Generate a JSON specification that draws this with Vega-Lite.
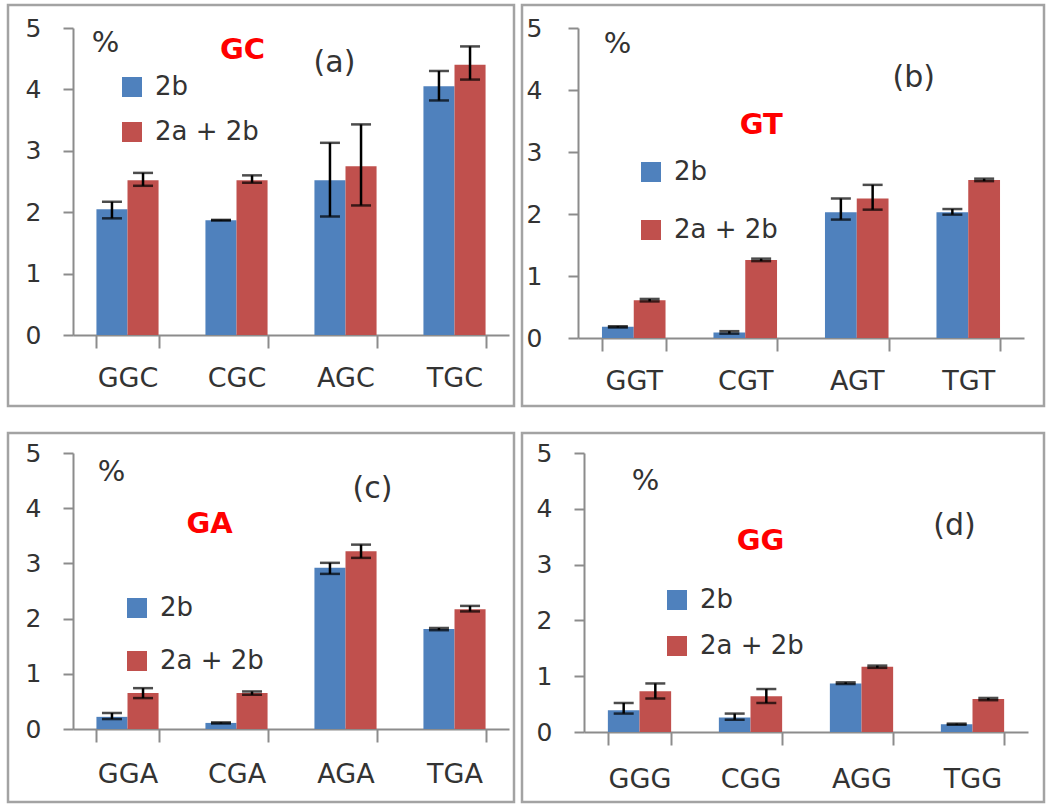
{
  "$schema": "https://vega.github.io/schema/vega-lite/v6.json",
  "padding": {"left": 6, "top": 3, "right": 0, "bottom": 0},
  "background": "white",
  "datasets": {
    "a": [
      {"cat": "GGC", "series": "2b", "value": 2.05, "lo": 1.9, "hi": 2.17},
      {"cat": "GGC", "series": "2a + 2b", "value": 2.52, "lo": 2.43, "hi": 2.64},
      {"cat": "CGC", "series": "2b", "value": 1.87, "lo": 1.865, "hi": 1.875},
      {"cat": "CGC", "series": "2a + 2b", "value": 2.52, "lo": 2.48, "hi": 2.6},
      {"cat": "AGC", "series": "2b", "value": 2.52, "lo": 1.93, "hi": 3.13},
      {"cat": "AGC", "series": "2a + 2b", "value": 2.75, "lo": 2.11, "hi": 3.43},
      {"cat": "TGC", "series": "2b", "value": 4.05, "lo": 3.82, "hi": 4.3},
      {"cat": "TGC", "series": "2a + 2b", "value": 4.4, "lo": 4.16, "hi": 4.7}
    ],
    "b": [
      {"cat": "GGT", "series": "2b", "value": 0.18, "lo": 0.17, "hi": 0.19},
      {"cat": "GGT", "series": "2a + 2b", "value": 0.61, "lo": 0.59, "hi": 0.63},
      {"cat": "CGT", "series": "2b", "value": 0.09, "lo": 0.07, "hi": 0.11},
      {"cat": "CGT", "series": "2a + 2b", "value": 1.26, "lo": 1.24, "hi": 1.28},
      {"cat": "AGT", "series": "2b", "value": 2.03, "lo": 1.91, "hi": 2.25},
      {"cat": "AGT", "series": "2a + 2b", "value": 2.25, "lo": 2.07, "hi": 2.47},
      {"cat": "TGT", "series": "2b", "value": 2.03, "lo": 1.99, "hi": 2.08},
      {"cat": "TGT", "series": "2a + 2b", "value": 2.55, "lo": 2.53, "hi": 2.57}
    ],
    "c": [
      {"cat": "GGA", "series": "2b", "value": 0.22, "lo": 0.18, "hi": 0.29},
      {"cat": "GGA", "series": "2a + 2b", "value": 0.65, "lo": 0.56, "hi": 0.74},
      {"cat": "CGA", "series": "2b", "value": 0.11, "lo": 0.1, "hi": 0.12},
      {"cat": "CGA", "series": "2a + 2b", "value": 0.65, "lo": 0.62, "hi": 0.68},
      {"cat": "AGA", "series": "2b", "value": 2.92, "lo": 2.81, "hi": 3.01},
      {"cat": "AGA", "series": "2a + 2b", "value": 3.22, "lo": 3.1, "hi": 3.34},
      {"cat": "TGA", "series": "2b", "value": 1.81, "lo": 1.79, "hi": 1.83},
      {"cat": "TGA", "series": "2a + 2b", "value": 2.17, "lo": 2.13, "hi": 2.23}
    ],
    "d": [
      {"cat": "GGG", "series": "2b", "value": 0.39, "lo": 0.33, "hi": 0.52},
      {"cat": "GGG", "series": "2a + 2b", "value": 0.73, "lo": 0.6, "hi": 0.87},
      {"cat": "CGG", "series": "2b", "value": 0.26, "lo": 0.22, "hi": 0.33},
      {"cat": "CGG", "series": "2a + 2b", "value": 0.64, "lo": 0.52, "hi": 0.77},
      {"cat": "AGG", "series": "2b", "value": 0.87, "lo": 0.86, "hi": 0.89},
      {"cat": "AGG", "series": "2a + 2b", "value": 1.17, "lo": 1.15, "hi": 1.19},
      {"cat": "TGG", "series": "2b", "value": 0.14, "lo": 0.13, "hi": 0.15},
      {"cat": "TGG", "series": "2a + 2b", "value": 0.59, "lo": 0.57, "hi": 0.61}
    ],
    "one": [{"k": 1}]
  },
  "columns": 2,
  "bounds": "flush",
  "spacing": {"row": 27, "column": 8},
  "resolve": {"scale": {"color": "independent", "x": "independent", "y": "independent", "xOffset": "independent"}, "legend": {"color": "independent"}},
  "concat": [
    {
      "width": 506, "height": 401,
      "encoding": {
        "x": {"field": "cat", "type": "nominal", "scale": {"domain": ["GGC", "CGC", "AGC", "TGC"], "range": [65, 501], "paddingInner": 0.43, "paddingOuter": 0.215},
              "axis": {"title": null, "offset": -71, "labelAngle": 0, "tickBand": "extent", "tickSize": 13, "labelPadding": 17, "labelFontSize": 27}}
      },
      "layer": [
        {"data": {"name": "a"}, "mark": {"type": "bar"},
         "encoding": {
           "xOffset": {"field": "series", "type": "nominal", "scale": {"domain": ["2b", "2a + 2b"]}},
           "y": {"field": "value", "type": "quantitative", "title": "%", "scale": {"domain": [0, 5], "range": [330, 23], "nice": false, "zero": true},
                 "axis": {"offset": -65, "values": [0, 1, 2, 3, 4, 5], "format": "d", "tickSize": 10, "labelPadding": 22, "titleAngle": 0, "titleX": 32, "titleY": 37, "titleAlign": "center", "titleBaseline": "middle"}},
           "color": {"field": "series", "type": "nominal", "scale": {"domain": ["2b", "2a + 2b"], "range": ["#4F81BD", "#C0504D"]},
                     "legend": {"orient": "none", "legendX": 111, "legendY": 69, "rowPadding": 19}}
         }},
        {"data": {"name": "a"}, "mark": {"type": "rule", "color": "black", "strokeWidth": 2.5},
         "encoding": {"xOffset": {"field": "series", "type": "nominal"}, "y": {"field": "lo", "type": "quantitative", "title": "%"}, "y2": {"field": "hi"}}},
        {"data": {"name": "a"}, "mark": {"type": "tick", "color": "black", "thickness": 2.5, "size": 20, "orient": "horizontal"},
         "encoding": {"xOffset": {"field": "series", "type": "nominal"}, "y": {"field": "lo", "type": "quantitative", "title": "%"}}},
        {"data": {"name": "a"}, "mark": {"type": "tick", "color": "black", "thickness": 2.5, "size": 20, "orient": "horizontal"},
         "encoding": {"xOffset": {"field": "series", "type": "nominal"}, "y": {"field": "hi", "type": "quantitative", "title": "%"}}},
        {"data": {"name": "one"}, "mark": {"type": "text", "text": "GC", "color": "#FF0000", "fontWeight": "bold", "fontSize": 29, "dx": 6, "baseline": "middle"},
         "encoding": {"x": {"datum": "CGC", "type": "nominal"}, "y": {"datum": 4.64, "type": "quantitative", "title": "%"}}},
        {"data": {"name": "one"}, "mark": {"type": "text", "text": "(a)", "color": "#333333", "fontSize": 30, "dx": -11, "baseline": "middle"},
         "encoding": {"x": {"datum": "AGC", "type": "nominal"}, "y": {"datum": 4.43, "type": "quantitative", "title": "%"}}}
      ]
    },
    {
      "width": 522, "height": 401,
      "encoding": {
        "x": {"field": "cat", "type": "nominal", "scale": {"domain": ["GGT", "CGT", "AGT", "TGT"], "range": [56, 502], "paddingInner": 0.43, "paddingOuter": 0.215},
              "axis": {"title": null, "offset": -68, "labelAngle": 0, "tickBand": "extent", "tickSize": 13, "labelPadding": 17, "labelFontSize": 27}}
      },
      "layer": [
        {"data": {"name": "b"}, "mark": {"type": "bar"},
         "encoding": {
           "xOffset": {"field": "series", "type": "nominal", "scale": {"domain": ["2b", "2a + 2b"]}},
           "y": {"field": "value", "type": "quantitative", "title": "%", "scale": {"domain": [0, 5], "range": [333, 23], "nice": false, "zero": true},
                 "axis": {"offset": -56, "values": [0, 1, 2, 3, 4, 5], "format": "d", "tickSize": 10, "labelPadding": 26, "titleAngle": 0, "titleX": 39, "titleY": 38, "titleAlign": "center", "titleBaseline": "middle"}},
           "color": {"field": "series", "type": "nominal", "scale": {"domain": ["2b", "2a + 2b"], "range": ["#4F81BD", "#C0504D"]},
                     "legend": {"orient": "none", "legendX": 116, "legendY": 154, "rowPadding": 32}}
         }},
        {"data": {"name": "b"}, "mark": {"type": "rule", "color": "black", "strokeWidth": 2.5},
         "encoding": {"xOffset": {"field": "series", "type": "nominal"}, "y": {"field": "lo", "type": "quantitative", "title": "%"}, "y2": {"field": "hi"}}},
        {"data": {"name": "b"}, "mark": {"type": "tick", "color": "black", "thickness": 2.5, "size": 20, "orient": "horizontal"},
         "encoding": {"xOffset": {"field": "series", "type": "nominal"}, "y": {"field": "lo", "type": "quantitative", "title": "%"}}},
        {"data": {"name": "b"}, "mark": {"type": "tick", "color": "black", "thickness": 2.5, "size": 20, "orient": "horizontal"},
         "encoding": {"xOffset": {"field": "series", "type": "nominal"}, "y": {"field": "hi", "type": "quantitative", "title": "%"}}},
        {"data": {"name": "one"}, "mark": {"type": "text", "text": "GT", "color": "#FF0000", "fontWeight": "bold", "fontSize": 29, "dx": 16, "baseline": "middle"},
         "encoding": {"x": {"datum": "CGT", "type": "nominal"}, "y": {"datum": 3.44, "type": "quantitative", "title": "%"}}},
        {"data": {"name": "one"}, "mark": {"type": "text", "text": "(b)", "color": "#333333", "fontSize": 30, "dx": 57, "baseline": "middle"},
         "encoding": {"x": {"datum": "AGT", "type": "nominal"}, "y": {"datum": 4.19, "type": "quantitative", "title": "%"}}}
      ]
    },
    {
      "width": 506, "height": 369,
      "encoding": {
        "x": {"field": "cat", "type": "nominal", "scale": {"domain": ["GGA", "CGA", "AGA", "TGA"], "range": [65, 501], "paddingInner": 0.43, "paddingOuter": 0.215},
              "axis": {"title": null, "offset": -73, "labelAngle": 0, "tickBand": "extent", "tickSize": 13, "labelPadding": 19, "labelFontSize": 27}}
      },
      "layer": [
        {"data": {"name": "c"}, "mark": {"type": "bar"},
         "encoding": {
           "xOffset": {"field": "series", "type": "nominal", "scale": {"domain": ["2b", "2a + 2b"]}},
           "y": {"field": "value", "type": "quantitative", "title": "%", "scale": {"domain": [0, 5], "range": [296, 20], "nice": false, "zero": true},
                 "axis": {"offset": -65, "values": [0, 1, 2, 3, 4, 5], "format": "d", "tickSize": 10, "labelPadding": 22, "titleAngle": 0, "titleX": 38, "titleY": 38, "titleAlign": "center", "titleBaseline": "middle"}},
           "color": {"field": "series", "type": "nominal", "scale": {"domain": ["2b", "2a + 2b"], "range": ["#4F81BD", "#C0504D"]},
                     "legend": {"orient": "none", "legendX": 116, "legendY": 162, "rowPadding": 27}}
         }},
        {"data": {"name": "c"}, "mark": {"type": "rule", "color": "black", "strokeWidth": 2.5},
         "encoding": {"xOffset": {"field": "series", "type": "nominal"}, "y": {"field": "lo", "type": "quantitative", "title": "%"}, "y2": {"field": "hi"}}},
        {"data": {"name": "c"}, "mark": {"type": "tick", "color": "black", "thickness": 2.5, "size": 20, "orient": "horizontal"},
         "encoding": {"xOffset": {"field": "series", "type": "nominal"}, "y": {"field": "lo", "type": "quantitative", "title": "%"}}},
        {"data": {"name": "c"}, "mark": {"type": "tick", "color": "black", "thickness": 2.5, "size": 20, "orient": "horizontal"},
         "encoding": {"xOffset": {"field": "series", "type": "nominal"}, "y": {"field": "hi", "type": "quantitative", "title": "%"}}},
        {"data": {"name": "one"}, "mark": {"type": "text", "text": "GA", "color": "#FF0000", "fontWeight": "bold", "fontSize": 29, "dx": -27, "baseline": "middle"},
         "encoding": {"x": {"datum": "CGA", "type": "nominal"}, "y": {"datum": 3.71, "type": "quantitative", "title": "%"}}},
        {"data": {"name": "one"}, "mark": {"type": "text", "text": "(c)", "color": "#333333", "fontSize": 30, "dx": 27, "baseline": "middle"},
         "encoding": {"x": {"datum": "AGA", "type": "nominal"}, "y": {"datum": 4.35, "type": "quantitative", "title": "%"}}}
      ]
    },
    {
      "width": 522, "height": 369,
      "encoding": {
        "x": {"field": "cat", "type": "nominal", "scale": {"domain": ["GGG", "CGG", "AGG", "TGG"], "range": [62, 506], "paddingInner": 0.43, "paddingOuter": 0.215},
              "axis": {"title": null, "offset": -70, "labelAngle": 0, "tickBand": "extent", "tickSize": 13, "labelPadding": 21, "labelFontSize": 27}}
      },
      "layer": [
        {"data": {"name": "d"}, "mark": {"type": "bar"},
         "encoding": {
           "xOffset": {"field": "series", "type": "nominal", "scale": {"domain": ["2b", "2a + 2b"]}},
           "y": {"field": "value", "type": "quantitative", "title": "%", "scale": {"domain": [0, 5], "range": [299, 20], "nice": false, "zero": true},
                 "axis": {"offset": -62, "values": [0, 1, 2, 3, 4, 5], "format": "d", "tickSize": 10, "labelPadding": 22, "titleAngle": 0, "titleX": 61, "titleY": 47, "titleAlign": "center", "titleBaseline": "middle"}},
           "color": {"field": "series", "type": "nominal", "scale": {"domain": ["2b", "2a + 2b"], "range": ["#4F81BD", "#C0504D"]},
                     "legend": {"orient": "none", "legendX": 142, "legendY": 154, "rowPadding": 20}}
         }},
        {"data": {"name": "d"}, "mark": {"type": "rule", "color": "black", "strokeWidth": 2.5},
         "encoding": {"xOffset": {"field": "series", "type": "nominal"}, "y": {"field": "lo", "type": "quantitative", "title": "%"}, "y2": {"field": "hi"}}},
        {"data": {"name": "d"}, "mark": {"type": "tick", "color": "black", "thickness": 2.5, "size": 20, "orient": "horizontal"},
         "encoding": {"xOffset": {"field": "series", "type": "nominal"}, "y": {"field": "lo", "type": "quantitative", "title": "%"}}},
        {"data": {"name": "d"}, "mark": {"type": "tick", "color": "black", "thickness": 2.5, "size": 20, "orient": "horizontal"},
         "encoding": {"xOffset": {"field": "series", "type": "nominal"}, "y": {"field": "hi", "type": "quantitative", "title": "%"}}},
        {"data": {"name": "one"}, "mark": {"type": "text", "text": "GG", "color": "#FF0000", "fontWeight": "bold", "fontSize": 29, "dx": 10, "baseline": "middle"},
         "encoding": {"x": {"datum": "CGG", "type": "nominal"}, "y": {"datum": 3.42, "type": "quantitative", "title": "%"}}},
        {"data": {"name": "one"}, "mark": {"type": "text", "text": "(d)", "color": "#333333", "fontSize": 30, "dx": -18, "baseline": "middle"},
         "encoding": {"x": {"datum": "TGG", "type": "nominal"}, "y": {"datum": 3.69, "type": "quantitative", "title": "%"}}}
      ]
    }
  ],
  "config": {
    "font": "DejaVu Sans",
    "view": {"stroke": "#a3a3a3", "strokeWidth": 2.5},
    "axis": {"labelFont": "DejaVu Sans", "labelFontSize": 25, "labelColor": "#333333", "domainColor": "#8c8c8c", "tickColor": "#8c8c8c", "domainWidth": 2, "tickWidth": 2, "grid": false,
             "titleFont": "DejaVu Sans", "titleFontSize": 29, "titleFontWeight": "normal", "titleColor": "#333333"},
    "legend": {"title": null, "symbolType": "square", "symbolSize": 400, "symbolStrokeWidth": 0, "labelFont": "DejaVu Sans", "labelFontSize": 26, "labelColor": "#333333", "labelOffset": 10, "padding": 0}
  }
}
